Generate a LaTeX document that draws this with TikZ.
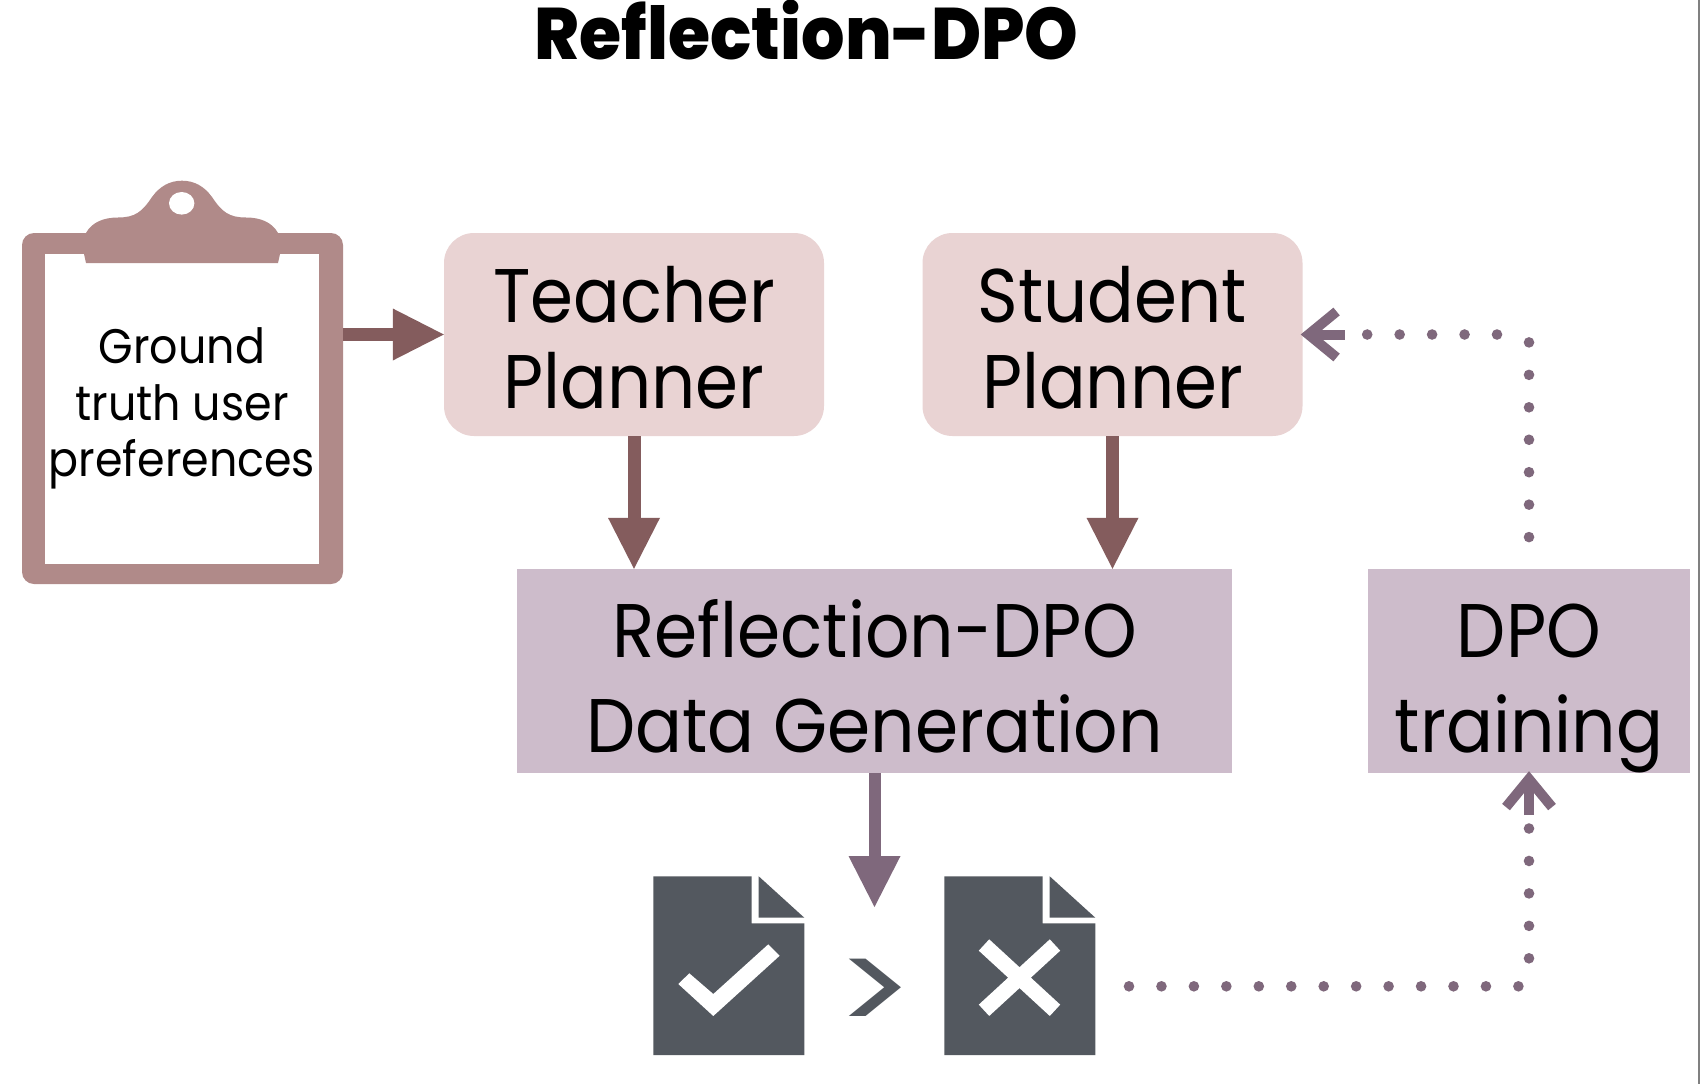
\documentclass[tikz,border=0pt]{standalone}
\usepackage{fontspec}
\setmainfont{Poppins}
\newfontfamily\planfont[FakeStretch=0.91]{Poppins}
\newfontfamily\datafont[FakeStretch=0.915]{Poppins}
\newfontfamily\headfont[FakeStretch=0.935]{Poppins ExtraBold}
\usetikzlibrary{arrows.meta}
\definecolor{clipc}{HTML}{B08A89}
\definecolor{arrowr}{HTML}{845C5D}
\definecolor{planc}{HTML}{E9D3D3}
\definecolor{dataC}{HTML}{CDBCCB}
\definecolor{arrowp}{HTML}{7F687C}
\definecolor{docc}{HTML}{53585F}
\newcommand{\lineat}[2]{\makebox[0pt]{\raisebox{#1pt}[0pt][0pt]{\makebox[0pt]{#2}}}}
\tikzset{
  x=1pt,y=-1pt,
  planner/.style={fill=planc,rounded corners=30pt,minimum width=380pt,minimum height=203pt,inner sep=0pt,font=\fontsize{76}{86}\planfont},
  databox/.style={fill=dataC,minimum height=204pt,inner sep=0pt,font=\fontsize{76}{95}\datafont},
  solidr/.style={draw=arrowr,line width=13pt,-{Triangle[length=51pt,width=52pt,line width=0pt]}},
  solidp/.style={draw=arrowp,line width=12pt,-{Triangle[length=51pt,width=52pt,line width=0pt]}},
  dotline/.style={draw=arrowp,line width=10.6pt,line cap=round,dash pattern=on 0pt off 32.45pt},
  openarrow/.style={draw=arrowp,line width=10pt,shorten >=-2pt,-{Straight Barb[length=28pt,width=46pt,line width=10pt]}},
  docshape/.style={fill=docc},
  docmark/.style={draw=white,line width=15.4pt}
}
\begin{document}
\begin{tikzpicture}
\useasboundingbox (0,0) rectangle (1700,1084);
\fill[white] (0,0) rectangle (1700,1084);
\draw[gray,line width=1.5pt] (1699,0) -- (1699,1084);
\node[font=\fontsize{73}{80}\headfont,anchor=base,inner sep=0pt] (title) at (806.7,59.3) {Reflection-DPO};
% clipboard
\node[fill=clipc,rounded corners=12pt,minimum width=321pt,minimum height=351pt,inner sep=0pt] (board) at (182.5,408.5) {};
\node[fill=white,minimum width=274pt,minimum height=310pt,inner sep=0pt,font=\fontsize{48.5}{57}\datafont] (paper) at (182,409) {\lineat{45.2}{Ground}\lineat{-11.8}{truth user}\lineat{-67.5}{preferences}};
\fill[clipc] (86,263) -- (84,254) -- (86,233) .. controls (92,222) and (104,217.5) .. (118,217.5) .. controls (135,217.5) and (142,212) .. (152,197) .. controls (160,186) and (170,180.7) .. (182,180.7) .. controls (194,180.7) and (204,186) .. (212,197) .. controls (222,212) and (229,217.5) .. (246,217.5) .. controls (260,217.5) and (272,222) .. (278,233) -- (280,254) -- (278,263) -- cycle;
\fill[white] (181.7,203.3) ellipse [x radius=12.7,y radius=11.3];
% planners
\node[planner] (teacher) at (634,334.5) {\lineat{12.2}{Teacher}\lineat{-73.5}{Planner}};
\node[planner] (student) at (1112.5,334.5) {\lineat{12.2}{Student}\lineat{-73.5}{Planner}};
\node[databox,minimum width=715pt] (refl) at (874.5,671) {\lineat{14}{Reflection-DPO}\lineat{-81}{Data Generation}};
\node[databox,minimum width=322pt] (dpo) at (1529,671) {\lineat{14}{DPO}\lineat{-81}{training}};
% documents
\node[minimum width=151pt,minimum height=179pt,inner sep=0pt] (doca) at (728.8,965.7) {};
\node[minimum width=151pt,minimum height=179pt,inner sep=0pt] (docb) at (1019.8,965.7) {};
\fill[docshape] (653.3,876.3) -- (751.7,876.3) -- (751.7,923.3) -- (804.3,923.3) -- (804.3,1055) -- (653.3,1055) -- cycle;
\fill[docshape] (758.7,876.3) -- (804.3,917.7) -- (758.7,917.7) -- cycle;
\fill[white] (678.3,984) -- (689.3,973.3) -- (713.3,994) -- (768.3,944.3) -- (779.7,955.7) -- (713.3,1016) -- cycle;
\fill[docshape] (944.3,876.3) -- (1042.7,876.3) -- (1042.7,923.3) -- (1095.3,923.3) -- (1095.3,1055) -- (944.3,1055) -- cycle;
\fill[docshape] (1049.7,876.3) -- (1095.3,917.7) -- (1049.7,917.7) -- cycle;
\draw[docmark] (984,945) -- (1055,1010.3);
\draw[docmark] (1055,945) -- (984,1010.3);
\node[text=docc,font=\fontsize{125}{125}\selectfont,inner sep=0pt] (gt2) at (875,996.5) {\scalebox{1.17}[1]{>}};
% connectors
\coordinate (arrowend) at (874.5,907);
\coordinate (dotstart) at (1129,986.3);
\coordinate (cornerb) at (1529,986.3);
\coordinate (cornera) at (1529,334.5);
\draw[solidr] (board.east |- teacher.west) -- (teacher.west);
\draw[solidr] (teacher.south) -- (teacher.south |- refl.north);
\draw[solidr] (student.south) -- (student.south |- refl.north);
\draw[solidp] (refl.south) -- (arrowend);
\draw[dotline,shorten >=-1pt] (dotstart) -- (cornerb);
\draw[dotline,dash phase=4.45pt,shorten >=40pt] (cornerb) -- (dpo.south);
\draw[openarrow] ([yshift=-42pt]dpo.south) -- (dpo.south);
\draw[dotline,shorten <=31.7pt,shorten >=5pt] (dpo.north) -- (cornera);
\draw[dotline,shorten <=32pt,shorten >=50pt] (cornera) -- (student.east);
\draw[openarrow] ([xshift=42pt]student.east) -- (student.east);
\end{tikzpicture}
\end{document}
